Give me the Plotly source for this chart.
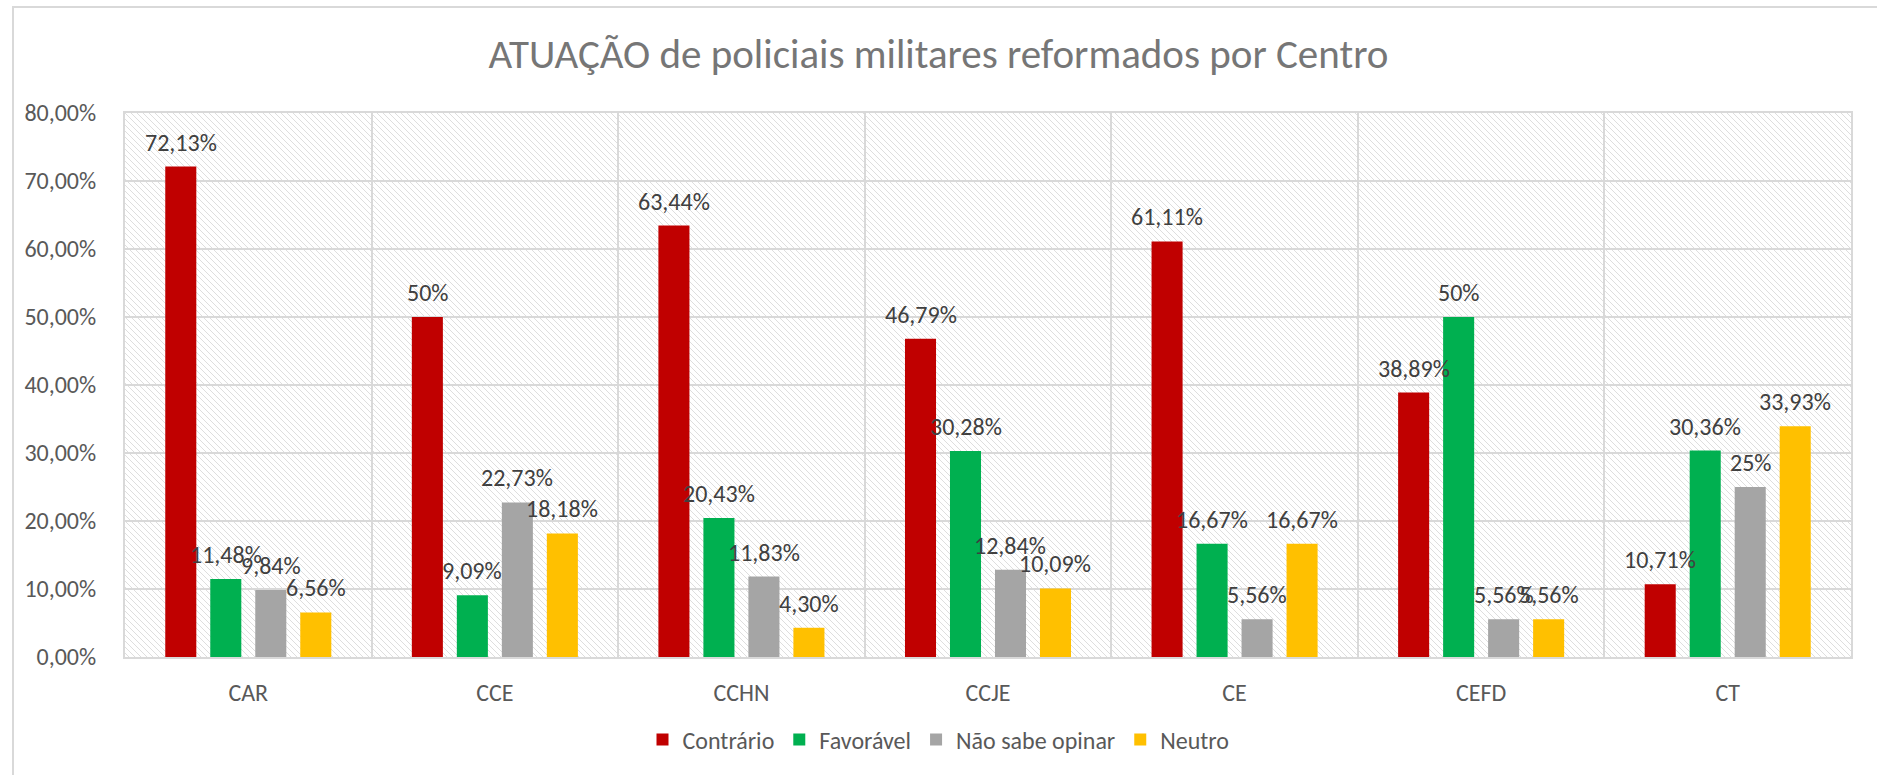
import base64

import plotly.graph_objects as go

centros = ['CAR', 'CCE', 'CCHN', 'CCJE', 'CE', 'CEFD', 'CT']
contrario = [72.13, 50, 63.44, 46.79, 61.11, 38.89, 10.71]
favoravel = [11.48, 9.09, 20.43, 30.28, 16.67, 50, 30.36]
nao_sabe = [9.84, 22.73, 11.83, 12.84, 5.56, 5.56, 25]
neutro = [6.56, 18.18, 4.30, 10.09, 16.67, 5.56, 33.93]

series_names = ['Contrário', 'Favorável', 'Não sabe opinar', 'Neutro']
series_colors = ['#C00000', '#00B050', '#A5A5A5', '#FFC000']

y_ticks = [0, 10, 20, 30, 40, 50, 60, 70, 80]
y_ticktext = ['0,00%', '10,00%', '20,00%', '30,00%', '40,00%', '50,00%', '60,00%', '70,00%', '80,00%']

W, H = 1877, 775
M_L, M_R, M_T, M_B = 125, 26, 113, 118
PLOT_W = W - M_L - M_R
PLOT_H = H - M_T - M_B
BARGAP = 0.27
FONT = 'Calibri, Carlito, Open Sans, sans-serif'
GRID = '#d9d9d9'


def fmt(v):
    # excel style: 50% / 72,13%
    if float(v).is_integer():
        return f'{int(v)}%'
    return f'{v:.2f}'.replace('.', ',') + '%'


def hatch_uri(w, h):
    svg = (
        f'<svg xmlns="http://www.w3.org/2000/svg" width="{w}" height="{h}">'
        '<defs><pattern id="p" width="6" height="6" patternUnits="userSpaceOnUse">'
        '<path d="M-1,-1 L7,7 M-1,5 L1,7 M5,-1 L7,1" stroke="#dedede" stroke-width="1"/>'
        '</pattern></defs>'
        '<rect width="100%" height="100%" fill="white"/>'
        '<rect width="100%" height="100%" fill="url(#p)"/></svg>'
    )
    return 'data:image/svg+xml;base64,' + base64.b64encode(svg.encode()).decode()


fig = go.Figure()
all_values = [contrario, favoravel, nao_sabe, neutro]
for name, vals, color in zip(series_names, all_values, series_colors):
    fig.add_trace(go.Bar(x=centros, y=vals, name=name, marker_color=color, marker_line_width=0))

# data labels above each bar (excel lets them overlap, so do we)
slot_px = PLOT_W / len(centros) * (1 - BARGAP) / len(series_names)
annotations = []
for i, vals in enumerate(all_values):
    for c, v in zip(centros, vals):
        annotations.append(dict(
            x=c, y=v, text=fmt(v), showarrow=False, yanchor='bottom',
            xshift=(i - 1.5) * slot_px, yshift=8,
            font=dict(family=FONT, size=24, color='#404040'),
        ))

fig.update_layout(
    width=W, height=H,
    margin=dict(l=M_L, r=M_R, t=M_T, b=M_B, autoexpand=False),
    paper_bgcolor='white',
    plot_bgcolor='rgba(0,0,0,0)',
    barmode='group',
    bargap=BARGAP,
    bargroupgap=0.31,
    title=dict(text='ATUAÇÃO de policiais militares reformados por Centro',
               x=0.5, xref='container', xanchor='center', y=1 - 54 / H, yanchor='middle',
               font=dict(family=FONT, size=41, color='#767676')),
    font=dict(family=FONT, size=24, color='#595959'),
    legend=dict(orientation='h', x=0.5, xanchor='center', xref='container',
                y=1 - 740 / H, yref='container', yanchor='middle',
                font=dict(size=24, color='#595959'), itemwidth=30),
    annotations=annotations,
    images=[dict(source=hatch_uri(PLOT_W, PLOT_H), xref='paper', yref='paper',
                 x=0, y=1, sizex=1, sizey=1, sizing='stretch', layer='below')],
    shapes=[dict(type='rect', xref='paper', yref='paper',
                 x0=(13 - M_L) / PLOT_W, x1=1.2, y0=-0.6, y1=(PLOT_H + M_T - 7) / PLOT_H,
                 line=dict(color=GRID, width=2), layer='below')],
)
fig.update_xaxes(tickson='boundaries', showgrid=True, gridcolor=GRID, gridwidth=2,
                 showline=True, linecolor=GRID, linewidth=2, mirror=True,
                 ticks='', ticklabelstandoff=13, tickfont=dict(size=24, color='#595959'))
fig.update_yaxes(range=[0, 80], tickvals=y_ticks, ticktext=y_ticktext,
                 showgrid=True, gridcolor=GRID, gridwidth=2, zeroline=False,
                 showline=True, linecolor=GRID, linewidth=2, mirror=True,
                 ticks='', ticklabelstandoff=22, tickfont=dict(size=24, color='#595959'))

fig.write_html('out.html', config={'displayModeBar': False},
               post_script="document.body.style.margin='0';")
